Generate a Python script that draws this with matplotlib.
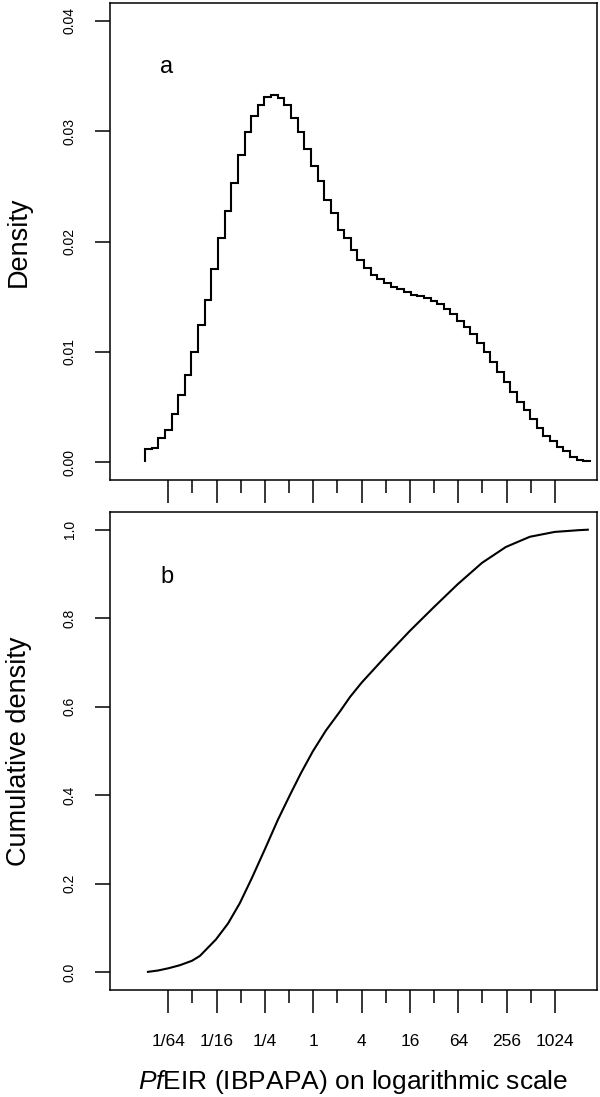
import numpy as np
import matplotlib
matplotlib.use("Agg")
import matplotlib.pyplot as plt

plt.rcParams['font.family'] = ['Liberation Sans', 'DejaVu Sans']
plt.rcParams['mathtext.fontset'] = 'custom'
plt.rcParams['mathtext.rm'] = 'Liberation Sans'
plt.rcParams['mathtext.it'] = 'Liberation Sans:italic'

# ---- data ----
# histogram of PfEIR on log2 scale: first bin edge (log2), bin width (log2)
bin_first_edge_log2 = -6.964
bin_width_log2 = 0.2748
density = [0.0012, 0.0013, 0.0022, 0.0029, 0.0044, 0.0061, 0.0079, 0.0100, 0.0124, 0.0147,
           0.0175, 0.0203, 0.0228, 0.0253, 0.0278, 0.0299, 0.0314, 0.0324, 0.0331, 0.0333,
           0.0330, 0.0324, 0.0312, 0.0299, 0.0284, 0.0268, 0.0255, 0.0238, 0.0226, 0.0210,
           0.0203, 0.0192, 0.0183, 0.0176, 0.0170, 0.0166, 0.0162, 0.0159, 0.0157, 0.0154,
           0.0152, 0.0151, 0.0149, 0.0146, 0.0143, 0.0139, 0.0134, 0.0128, 0.0123, 0.0116,
           0.0108, 0.0100, 0.0091, 0.0082, 0.0073, 0.0064, 0.0055, 0.0047, 0.0039, 0.0031,
           0.0024, 0.0019, 0.0014, 0.0010, 0.0005, 0.0002, 0.0001]

# cumulative density curve: PfEIR (log2) and value
cdf_log2_eir = [-6.84, -6.43, -6.0, -5.52, -5.02, -4.69, -4.03, -3.53, -3.04, -2.54,
                -2.01, -1.46, -0.97, -0.51, -0.02, 0.52, 1.10, 1.52, 2.01, 3.0,
                3.99, 4.99, 5.98, 6.98, 7.97, 8.96, 9.99, 11.0, 11.36]
cdf_value = [0.001, 0.004, 0.009, 0.016, 0.026, 0.037, 0.074, 0.110, 0.156, 0.213,
             0.277, 0.345, 0.400, 0.450, 0.499, 0.546, 0.589, 0.622, 0.655, 0.714,
             0.771, 0.825, 0.877, 0.925, 0.961, 0.984, 0.995, 0.999, 1.000]

major_tick_eir = [1/64, 1/16, 1/4, 1, 4, 16, 64, 256, 1024]
major_tick_labels = ['1/64', '1/16', '1/4', '1', '4', '16', '64', '256', '1024']
minor_tick_eir = [1/32, 1/8, 1/2, 2, 8, 32, 128, 512]

dens_ticks = [0.00, 0.01, 0.02, 0.03, 0.04]
dens_labels = ['0.00', '0.01', '0.02', '0.03', '0.04']
cum_ticks = [0.0, 0.2, 0.4, 0.6, 0.8, 1.0]
cum_labels = ['0.0', '0.2', '0.4', '0.6', '0.8', '1.0']

# ---- figure ----
W, H = 600, 1097
fig = plt.figure(figsize=(W / 100, H / 100), dpi=100)

def px_axes(left, top, right, bottom):
    return fig.add_axes([left / W, 1 - bottom / H, (right - left) / W, (bottom - top) / H])

ax1 = px_axes(110, 3, 597, 480)
ax2 = px_axes(110, 512, 597, 990)

xlim = (2 ** -8.41, 2 ** 11.74)

edges = 2 ** (bin_first_edge_log2 + bin_width_log2 * np.arange(len(density) + 1))
ax1.stairs(density, edges, baseline=0, fill=False, color='black', lw=1.5)

cdf_x = [2 ** v for v in cdf_log2_eir]
ax2.plot(cdf_x, cdf_value, color='black', lw=1.5, solid_joinstyle='round')

for ax in (ax1, ax2):
    ax.set_xscale('log', base=2)
    ax.set_xlim(*xlim)
    ax.set_xticks(major_tick_eir)
    ax.set_xticks(minor_tick_eir, minor=True)
    ax.tick_params(axis='x', which='major', length=16.5, width=1.1, direction='out')
    ax.tick_params(axis='x', which='minor', length=9.4, width=1.1, direction='out')
    ax.tick_params(axis='y', which='major', length=10.8, width=1.1, direction='out', pad=13)
    ax.tick_params(axis='y', which='minor', length=0)
    for s in ax.spines.values():
        s.set_linewidth(1.1)

ax1.set_xticklabels([])
ax2.set_xticklabels(major_tick_labels, fontsize=12.5)
ax2.tick_params(axis='x', which='major', pad=15)
ax2.xaxis.set_minor_formatter(matplotlib.ticker.NullFormatter())
ax1.xaxis.set_minor_formatter(matplotlib.ticker.NullFormatter())

ax1.set_ylim(-0.0016, 0.0416)
ax1.set_yticks(dens_ticks)
ax1.set_yticklabels(dens_labels, rotation=90, va='center', fontsize=10)
ax2.set_ylim(-0.04, 1.04)
ax2.set_yticks(cum_ticks)
ax2.set_yticklabels(cum_labels, rotation=90, va='center', fontsize=10)

ax1.set_ylabel('Density', fontsize=19.5)
ax2.set_ylabel('Cumulative density', fontsize=19.5)
ax1.yaxis.set_label_coords(-(110 - 32) / 487, 0.5)
ax2.yaxis.set_label_coords(-(110 - 32) / 487, 0.5)

ax2.set_xlabel(r'$\it{Pf}$EIR (IBPAPA) on logarithmic scale', fontsize=19)
ax2.xaxis.set_label_coords((353 - 110) / 487, -(1068 - 990) / 478)

ax1.text((167 - 110) / 487, 1 - (67 - 3) / 477, 'a', transform=ax1.transAxes,
         fontsize=17, ha='center', va='center')
ax2.text((167 - 110) / 487, 1 - (577 - 512) / 478, 'b', transform=ax2.transAxes,
         fontsize=17, ha='center', va='center')

fig.savefig('out.png', dpi=100)
